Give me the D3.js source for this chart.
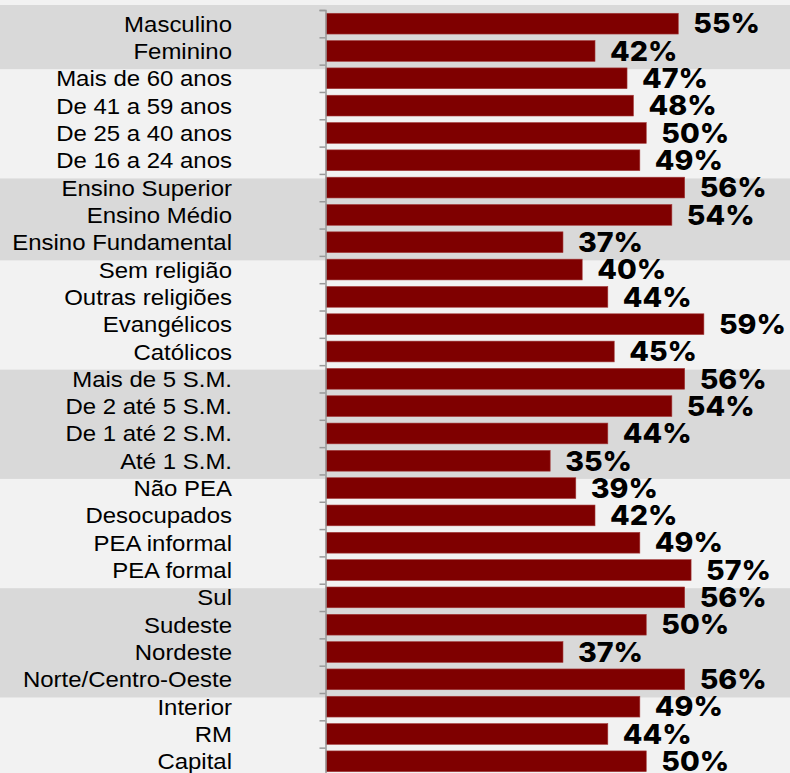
<!DOCTYPE html>
<html><head><meta charset="utf-8">
<script src="https://cdn.jsdelivr.net/npm/d3@7"></script>
<style>html,body{margin:0;padding:0;background:#f2f2f2;}svg{display:block;}</style>
</head><body>
<svg id="chart" width="790" height="773"></svg>
<script>
const categories = ["Masculino","Feminino","Mais de 60 anos","De 41 a 59 anos","De 25 a 40 anos","De 16 a 24 anos","Ensino Superior","Ensino Médio","Ensino Fundamental","Sem religião","Outras religiões","Evangélicos","Católicos","Mais de 5 S.M.","De 2 até 5 S.M.","De 1 até 2 S.M.","Até 1 S.M.","Não PEA","Desocupados","PEA informal","PEA formal","Sul","Sudeste","Nordeste","Norte/Centro-Oeste","Interior","RM","Capital"];
const values = [55,42,47,48,50,49,56,54,37,40,44,59,45,56,54,44,35,39,42,49,57,56,50,37,56,49,44,50];
const groupSizes = [2,4,3,4,4,4,4,3];
const groupShaded = [true,false,true,false,true,false,true,false];

const svg = d3.select("#chart");
const W = 790, H = 773;
const axisX = 326;
const y = d3.scaleBand().domain(categories).range([10, 10 + 27.32*categories.length]).paddingInner(0.24).paddingOuter(0.12);
const x = d3.scaleLinear().domain([0, 100]).range([axisX, axisX + 640.5]);
const step = y.step();
const rowTop = c => y(c) - y.paddingInner()*step/2;

svg.append("rect").attr("width", W).attr("height", H).attr("fill", "#f2f2f2");

// group bands
let idx = 0;
groupSizes.forEach((n, g) => {
  const first = categories[idx], last = categories[idx + n - 1];
  const top = g === 0 ? 5 : rowTop(first) + 4.5;
  const bottom = rowTop(last) + step + 4.5;
  if (groupShaded[g]) {
    svg.append("rect").attr("x", 0).attr("y", top).attr("width", W).attr("height", bottom - top).attr("fill", "#d9d9d9");
  }
  idx += n;
});

// bars
svg.append("g").selectAll("rect").data(values).join("rect")
  .attr("x", x(0))
  .attr("y", (d, i) => y(categories[i]))
  .attr("width", d => x(d) - x(0))
  .attr("height", y.bandwidth())
  .attr("fill", "#7f0000")
  .attr("stroke", "#a33a3a").attr("stroke-width", 0.6);

// axis
const axisScale = d3.scalePoint().domain(d3.range(categories.length + 1)).range([10, 10 + 27.32*categories.length]);
const ax = svg.append("g").attr("transform", `translate(${axisX - 0.5},0)`)
  .call(d3.axisLeft(axisScale).tickSize(6).tickFormat(""));
ax.select(".domain").attr("stroke", "#999").attr("stroke-width", 1.5);
ax.selectAll(".tick line").attr("stroke", "#999").attr("stroke-width", 1.5);

// category labels
const catSX = 1.075;
svg.append("g").selectAll("text").data(categories).join("text")
  .attr("transform", d => `translate(232,${y(d) + y.bandwidth()/2}) scale(${catSX},1)`)
  .attr("dy", "0.36em")
  .attr("text-anchor", "end")
  .attr("font-family", "'Liberation Sans', Arial, sans-serif")
  .attr("font-size", 22.3)
  .attr("fill", "#000")
  .text(d => d);

// value labels
svg.append("g").selectAll("text").data(values).join("text")
  .attr("transform", (d, i) => `translate(${x(d) + 15},${y(categories[i]) + y.bandwidth()/2}) scale(1.06,1)`)
  .attr("dy", "0.36em")
  .attr("font-family", "Inter, 'Open Sans', sans-serif")
  .attr("font-weight", 800)
  .attr("font-size", 27)
  .attr("fill", "#000")
  .text(d => d + "%");
</script>
</body></html>
